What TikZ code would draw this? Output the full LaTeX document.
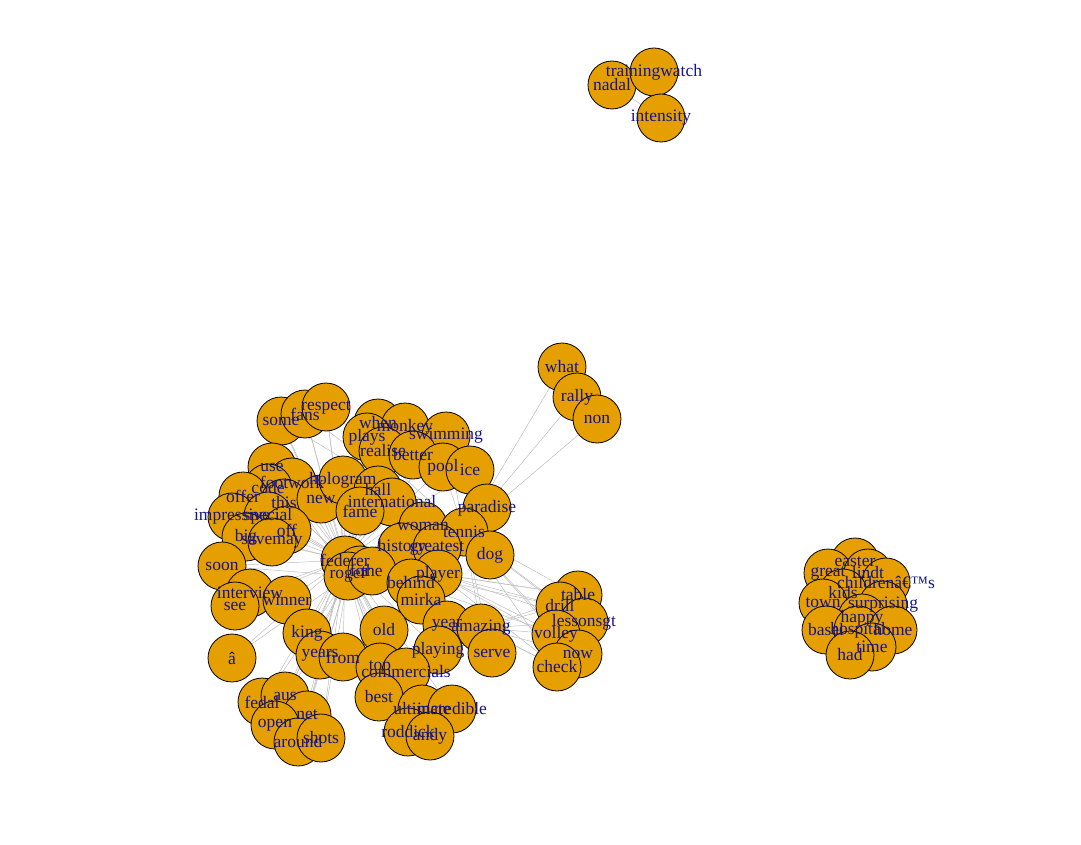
\documentclass[tikz,border=0pt]{standalone}
\usepackage{fontspec}
\setmainfont{Liberation Serif}
\definecolor{vfill}{RGB}{230,159,0}
\definecolor{vlabel}{RGB}{20,20,140}
\definecolor{edgegray}{RGB}{190,190,190}

% name/x/y/label
\def\vertices{nadal/612/85/nadal, trainingwatch/654/72/trainingwatch, intensity/661/118/intensity,
  what/562/367/what, rally/577/397/rally, non/597/419/non,
  some/281/421/some, fans/305/414/fans, respect/326/407/respect,
  when/378/423/when, monkey/405/427/monkey, plays/367/437/plays, swimming/446/436/swimming,
  realise/383/451/realise, better/413/455/better, pool/443/467/pool, ice/470/470/ice,
  use/272/467/use, footwork/292/482/footwork, code/268/488/code, offer/243/496/offer,
  this/284/503/this, new/321/499/new, hologram/343/480/hologram, hall/378/490/hall,
  international/392/502/international, fame/360/511/fame, impressive/232/517/impressive,
  special/268/516/special, off/287/530/off, big/246/537/big, savemay/272/542/savemay,
  paradise/487/508/paradise, woman/423/526/woman, tennis/464/532/tennis,
  history/402/547/history, greatest/437/548/greatest, dog/490/555/dog,
  federer/345/560/federer, for/360/570/for, roger/348/576/roger, the/372/571/the,
  player/438/574/player, behind/411/583/behind, mirka/421/600/mirka,
  soon/222/566/soon, interview/250/593/interview, see/235/606/see, winner/287/600/winner,
  king/307/633/king, old/384/630/old, year/447/625/year, amazing/481/628/amazing,
  serve/492/653/serve, playing/438/650/playing, years/320/655/years, from/343/657/from,
  ahat/232/658/â, top/380/667/top, commercials/406/672/commercials, best/379/697/best,
  ultimate/422/709/ultimate, incredible/452/709/incredible, roddick/408/732/roddick, andy/430/736/andy,
  fedal/262/702/fedal, aus/285/696/aus, net/307/715/net, open/275/725/open,
  around/298/742/around, shots/321/738/shots,
  table/578/595/table, drill/560/606/drill, lessonsgt/584/622/lessonsgt, volley/556/634/volley,
  now/578/654/now, check/557/667/check,
  easter/855/562/easter, great/828/573/great, lindt/868/573/lindt, childrens/886/582/childrenâ€™s,
  kids/843/593/kids, town/823/603/town, surprising/883/605/surprising, happy/862/618/happy,
  basel/826/630/basel, hospital/858/630/hospital, home/893/630/home, time/872/647/time, had/850/655/had}

\begin{document}
\begin{tikzpicture}[x=1pt,y=-1pt]
    \tikzstyle{vertex}=[draw=black,line width=0.8pt,circle,fill=vfill,minimum size=48pt,inner sep=0pt]
    \tikzstyle{word}=[text=vlabel,font=\fontsize{17.5}{17.5}\selectfont,inner sep=0pt]
    \tikzstyle{edge}=[draw=edgegray,line width=0.5pt]

    \useasboundingbox (0,0) rectangle (1081,845);

    \foreach \n/\x/\y/\t in \vertices
        \coordinate (\n) at (\x,\y);

    % edges
    \foreach \n in {some,fans,respect,when,monkey,plays,swimming,realise,better,pool,ice,use,
        footwork,code,offer,this,new,hologram,hall,international,fame,impressive,special,off,
        big,savemay,paradise,woman,history,greatest,dog,player,behind,mirka,soon,interview,see,
        winner,king,old,year,amazing,serve,playing,years,from,ahat,top,commercials,best,ultimate,
        incredible,roddick,andy,fedal,aus,net,open,around,shots,table,drill,volley,check}
        \draw[edge] (federer) -- (\n);
    \foreach \n in {what,rally,non,paradise,dog,swimming,pool,ice,serve,amazing,
        table,drill,lessonsgt,volley,now,check,respect,fans,some}
        \draw[edge] (tennis) -- (\n);
    \foreach \n in {table,drill,lessonsgt,volley,now,check}
        \draw[edge] (player) -- (\n);
    \foreach \n in {table,drill,lessonsgt,volley,now,check}
        \draw[edge] (amazing) -- (\n);
    \foreach \n in {respect,fans,some,use,soon,ahat,fedal,aus,open,net,shots,around,roddick,andy}
        \draw[edge] (roger) -- (\n);
    \draw[edge] (nadal) -- (intensity);
    \draw[edge] (nadal) -- (trainingwatch);
    \draw[edge] (trainingwatch) -- (intensity);
    \foreach \n in {great,lindt,childrens,kids,town,surprising,happy,basel,hospital,home,time,had}
        \draw[edge] (easter) -- (\n);

    % vertices, then labels on top
    \foreach \n/\x/\y/\t in \vertices
        \node[vertex] (v-\n) at (\n) {};
    \foreach \n/\x/\y/\t in \vertices
        \node[word] (l-\n) at (\n) {\t};
\end{tikzpicture}
\end{document}
